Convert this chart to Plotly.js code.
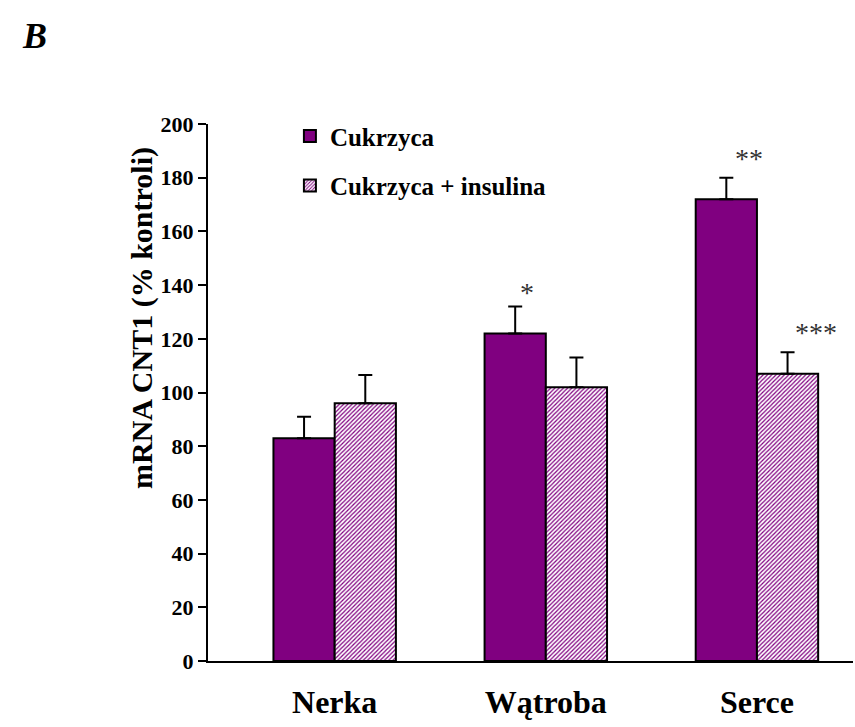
<!DOCTYPE html>
<html>
<head>
<meta charset="utf-8">
<script src="https://cdn.plot.ly/plotly-3.0.1.min.js"></script>
<style>body{margin:0;padding:0;background:#fff;}#chart{width:855px;height:727px;}</style>
</head>
<body>
<div id="chart"></div>
<script>
var categories = ["Nerka", "Wątroba", "Serce"];
var seriesNames = ["Cukrzyca", "Cukrzyca + insulina"];
var cukrzyca = [83, 122, 172];
var cukrzycaErr = [8, 10, 8];
var insulina = [96, 102, 107];
var insulinaErr = [10.5, 11, 8];
var yTicks = [0, 20, 40, 60, 80, 100, 120, 140, 160, 180, 200];
var yTitle = "mRNA CNT1 (% kontroli)";
var markCats = ["Wątroba", "Serce", "Serce"];
var markSeries = [0, 0, 1];
var markTexts = ["*", "**", "***"];

// styling offsets for the significance marks (pixels)
var markXShift = [12, 23, 28];
var markYShift = [-3, 2, 2];

var serif = "Liberation Serif, Times New Roman, serif";
var purple = "#800080";

var traces = [
  {
    type: "bar", name: seriesNames[0], x: categories, y: cukrzyca,
    legendgroup: "a",
    marker: {color: purple, line: {color: "#000", width: 2}},
    error_y: {type: "data", array: cukrzycaErr, arrayminus: cukrzyca.map(function(){return 0;}), symmetric: false, color: "#000", thickness: 2, width: 7}
  },
  {
    type: "bar", name: seriesNames[1], x: categories, y: insulina,
    legendgroup: "b",
    marker: {color: "#ffffff", line: {color: "#000", width: 2},
      pattern: {shape: "/", fgcolor: purple, bgcolor: "#ffffff", size: 3, solidity: 0.4, fillmode: "replace"}},
    error_y: {type: "data", array: insulinaErr, arrayminus: insulina.map(function(){return 0;}), symmetric: false, color: "#000", thickness: 2, width: 7}
  }
];

var vals = [cukrzyca, insulina];
var errs = [cukrzycaErr, insulinaErr];
var annotations = markTexts.map(function(t, k){
  var i = categories.indexOf(markCats[k]);
  var s = markSeries[k];
  var top = vals[s][i] + errs[s][i];
  return {
    x: i + (s === 0 ? -0.145 : 0.145), xref: "x",
    y: top, yref: "y", yanchor: "bottom", yshift: markYShift[k], xshift: markXShift[k],
    text: t, showarrow: false,
    font: {family: serif, size: 28, color: "#333"}
  };
});
annotations.push({
  xref: "paper", xanchor: "left", x: (20 - 208) / 645,
  yref: "paper", yanchor: "top", y: 1 + (124 - 14) / 537,
  text: "<b><i>B</i></b>", showarrow: false,
  font: {family: serif, size: 36, color: "#000"}
});
annotations.push({
  xref: "paper", xanchor: "center", x: (142 - 208) / 645,
  yref: "paper", yanchor: "middle", y: (661 - 318) / 537,
  text: "<b>" + yTitle + "</b>", textangle: -90, showarrow: false,
  font: {family: serif, size: 30, color: "#000"}
});

var layout = {
  width: 855, height: 727,
  margin: {l: 208, r: 2, t: 124, b: 66},
  paper_bgcolor: "#fff", plot_bgcolor: "#fff",
  barmode: "group", bargap: 0.42, bargroupgap: 0,
  showlegend: true,
  legend: {x: 0.127, y: 1.02, xanchor: "left", yanchor: "top",
    font: {family: serif, size: 25, color: "#000", weight: "bold"},
    itemwidth: 30,
    traceorder: "grouped", tracegroupgap: 14, bgcolor: "rgba(0,0,0,0)"},
  xaxis: {
    type: "category", range: [-0.6, 2.455],
    showline: true, linecolor: "#000", linewidth: 2,
    ticks: "", showgrid: false, zeroline: false,
    tickfont: {family: serif, size: 32, color: "#000", weight: "bold"},
    ticklabelstandoff: 12
  },
  yaxis: {
    range: [0, 200], tickvals: yTicks, ticktext: yTicks.map(String),
    showline: true, linecolor: "#000", linewidth: 2,
    ticks: "outside", ticklen: 8, tickwidth: 2, tickcolor: "#000",
    showgrid: false, zeroline: false,
    tickfont: {family: serif, size: 22, color: "#000", weight: "bold"}
  },
  annotations: annotations
};

Plotly.newPlot("chart", traces, layout, {displayModeBar: false});
</script>
</body>
</html>
